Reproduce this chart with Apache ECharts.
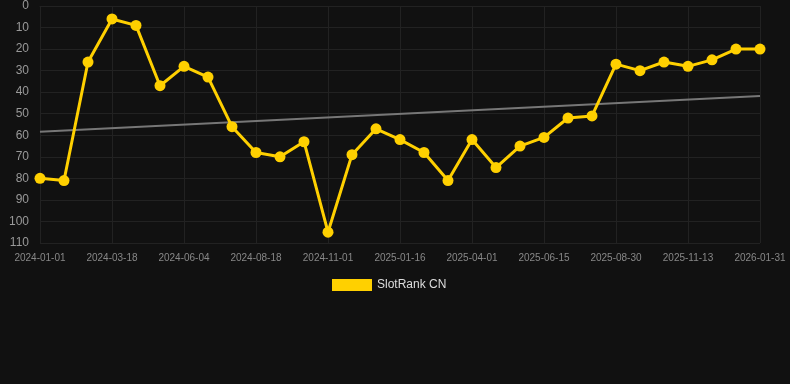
<!DOCTYPE html>
<html>
<head>
<meta charset="utf-8">
<script src="https://cdn.jsdelivr.net/npm/echarts@6/dist/echarts.min.js"></script>
<style>
  html, body { margin: 0; padding: 0; background: #111; }
  #main { width: 790px; height: 384px; }
</style>
</head>
<body>
<div id="main"></div>
<script>
const dates = [
  '2024-01-01', '2024-01-26', '2024-02-21', '2024-03-18', '2024-04-13', '2024-05-09',
  '2024-06-04', '2024-06-29', '2024-07-24', '2024-08-18', '2024-09-12', '2024-10-07',
  '2024-11-01', '2024-11-26', '2024-12-22', '2025-01-16', '2025-02-09', '2025-03-06',
  '2025-04-01', '2025-04-26', '2025-05-21', '2025-06-15', '2025-07-10', '2025-08-04',
  '2025-08-30', '2025-09-24', '2025-10-19', '2025-11-13', '2025-12-09', '2026-01-05',
  '2026-01-31'
];
const ranks = [
  80, 81, 26, 6, 9, 37, 28, 33, 56, 68, 70, 63, 105, 69, 57, 62,
  68, 81, 62, 75, 65, 61, 52, 51, 27, 30, 26, 28, 25, 20, 20
];
// trend line, read at first and last date
const trendEnds = [58.4, 41.8];

const trendData = dates.map((d, i) =>
  i === 0 ? trendEnds[0] : (i === dates.length - 1 ? trendEnds[1] : null));

const chart = echarts.init(document.getElementById('main'));

chart.setOption({
  backgroundColor: '#111',
  animation: false,
  grid: { left: 40, right: 30, top: 6, bottom: 141 },
  legend: {
    data: [{ name: 'SlotRank CN', icon: 'rect' }],
    left: 327,
    top: 274,
    itemWidth: 40,
    itemHeight: 12,
    itemGap: 10,
    textStyle: { color: '#ddd', fontSize: 12, fontFamily: 'Arial, Liberation Sans, sans-serif' }
  },
  xAxis: {
    type: 'category',
    data: dates,
    boundaryGap: false,
    axisLine: { show: true, lineStyle: { color: '#222' } },
    axisTick: { show: true, interval: 2, length: 6, lineStyle: { color: '#222' } },
    axisLabel: {
      interval: 2,
      color: '#888',
      fontSize: 10,
      margin: 10,
      fontFamily: 'Arial, Liberation Sans, sans-serif'
    },
    splitLine: { show: true, interval: 2, lineStyle: { color: '#222' } }
  },
  yAxis: {
    type: 'value',
    inverse: true,
    min: 0,
    max: 110,
    interval: 10,
    axisLine: { show: false },
    axisTick: { show: false },
    axisLabel: {
      color: '#999',
      fontSize: 12,
      margin: 11,
      fontFamily: 'Arial, Liberation Sans, sans-serif'
    },
    splitLine: { show: true, lineStyle: { color: '#222' } }
  },
  series: [
    {
      name: 'trend',
      type: 'line',
      data: trendData,
      connectNulls: true,
      symbol: 'none',
      silent: true,
      lineStyle: { color: '#777', width: 2 },
      z: 1
    },
    {
      name: 'SlotRank CN',
      type: 'line',
      data: ranks,
      symbol: 'circle',
      symbolSize: 11,
      itemStyle: { color: '#ffd000' },
      lineStyle: { color: '#ffd000', width: 3 },
      z: 2
    }
  ]
});
</script>
</body>
</html>
